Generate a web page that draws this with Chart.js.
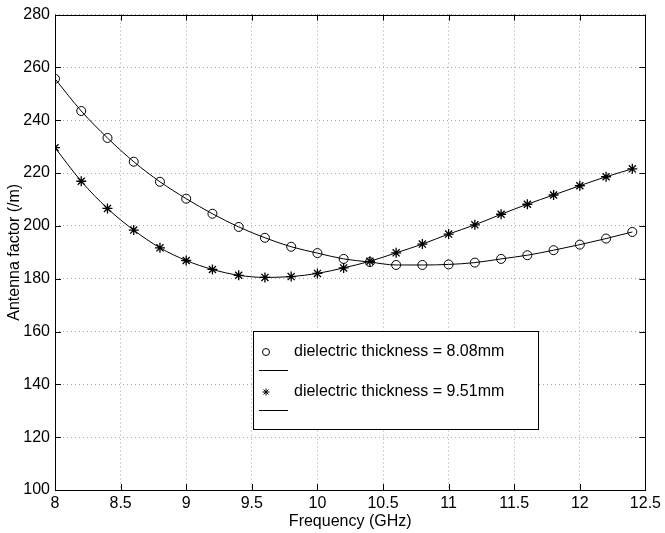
<!DOCTYPE html>
<html>
<head>
<meta charset="utf-8">
<script src="https://cdn.jsdelivr.net/npm/chart.js@4"></script>
<style>
  html, body { margin: 0; padding: 0; background: #fff; }
  #wrap { width: 665px; height: 533px; }
</style>
</head>
<body>
<div id="wrap"><canvas id="chart" width="665" height="533"></canvas></div>
<script>
/* ─── Data ───────────────────────────────────────── */
const FREQ = [8.0, 8.2, 8.4, 8.6, 8.8, 9.0, 9.2, 9.4, 9.6, 9.8, 10.0, 10.2,
              10.4, 10.6, 10.8, 11.0, 11.2, 11.4, 11.6, 11.8, 12.0, 12.2, 12.4];

const AF_808 = [255.7, 243.5, 233.3, 224.3, 216.7, 210.3, 204.6, 199.6, 195.5, 192.1, 189.7, 187.5,
                186.3, 185.2, 185.2, 185.4, 186.1, 187.5, 188.9, 190.8, 192.9, 195.2, 197.7];

const AF_951 = [229.6, 216.9, 206.6, 198.4, 191.7, 186.9, 183.5, 181.3, 180.5, 180.8, 182.0, 184.1,
                186.6, 189.8, 193.1, 196.9, 200.4, 204.4, 208.2, 211.7, 215.2, 218.6, 221.6];

const X_TICKS = [8, 8.5, 9, 9.5, 10, 10.5, 11, 11.5, 12, 12.5];
const Y_TICKS = [100, 120, 140, 160, 180, 200, 220, 240, 260, 280];

const LABELS = ['dielectric thickness = 8.08mm', 'dielectric thickness = 9.51mm'];
const MARKERS = ['circle', 'star'];

const FONT = "'Liberation Sans', Arial, Helvetica, sans-serif";

/* ─── Helpers ───────────────────────────────────── */
function pts(ys) {
  return FREQ.map((x, i) => ({ x, y: ys[i] }));
}

function series(label, ys, style) {
  return {
    label,
    data: pts(ys),
    borderColor: '#000',
    borderWidth: 1,
    tension: 0.4,
    cubicInterpolationMode: 'monotone',
    pointStyle: style,
    pointRadius: style === 'star' ? 5 : 4.5,
    pointBorderWidth: style === 'star' ? 1.3 : 1,
    pointBorderColor: '#000',
    pointBackgroundColor: 'rgba(0,0,0,0)',
  };
}

/* ─── Plugins ───────────────────────────────────── */
// frame + inward ticks on all four sides
const framePlugin = {
  id: 'frame',
  afterDatasetsDraw(chart) {
    const { ctx, chartArea: a, scales } = chart;
    const len = 6;
    ctx.save();
    ctx.strokeStyle = '#000';
    ctx.lineWidth = 1;
    ctx.beginPath();
    X_TICKS.forEach(v => {
      const px = Math.round(scales.x.getPixelForValue(v)) + 0.5;
      ctx.moveTo(px, a.bottom); ctx.lineTo(px, a.bottom - len);
      ctx.moveTo(px, a.top);    ctx.lineTo(px, a.top + len);
    });
    Y_TICKS.forEach(v => {
      const py = Math.round(scales.y.getPixelForValue(v)) + 0.5;
      ctx.moveTo(a.left, py);  ctx.lineTo(a.left + len, py);
      ctx.moveTo(a.right, py); ctx.lineTo(a.right - len, py);
    });
    ctx.stroke();
    ctx.strokeRect(Math.round(a.left) + 0.5, Math.round(a.top) + 0.5,
                   Math.round(a.right - a.left), Math.round(a.bottom - a.top));
    ctx.restore();
  },
};

// MATLAB-style legend: marker + text, short line underneath
const legendPlugin = {
  id: 'matLegend',
  afterDraw(chart) {
    const { ctx } = chart;
    const box = { x: 253, y: 331, w: 285, h: 98 };
    ctx.save();
    ctx.fillStyle = '#fff';
    ctx.fillRect(box.x, box.y, box.w, box.h);
    ctx.strokeStyle = '#000';
    ctx.lineWidth = 1;
    ctx.strokeRect(box.x + 0.5, box.y + 0.5, box.w, box.h);

    ctx.font = '16px ' + FONT;
    ctx.textBaseline = 'middle';
    LABELS.forEach((lab, i) => {
      const cy = box.y + 21 + i * 40;
      ctx.fillStyle = 'rgba(0,0,0,0)';
      Chart.helpers.drawPoint(ctx, { pointStyle: MARKERS[i], radius: 3.5, borderWidth: 1 }, 266, cy);
      ctx.fillStyle = '#000';
      ctx.fillText(lab, 294, cy);
      ctx.beginPath();
      ctx.moveTo(259, cy + 18.5);
      ctx.lineTo(288, cy + 18.5);
      ctx.stroke();
    });
    ctx.restore();
  },
};

/* ─── Chart ──────────────────────────────────────── */
const gridOpts = { color: '#a8a8a8', lineWidth: 1, drawTicks: false };
const tickFont = { family: FONT, size: 16 };

new Chart(document.getElementById('chart').getContext('2d'), {
  type: 'line',
  data: {
    datasets: [
      series(LABELS[0], AF_808, MARKERS[0]),
      series(LABELS[1], AF_951, MARKERS[1]),
    ],
  },
  options: {
    responsive: false,
    animation: false,
    layout: { padding: { top: 13, right: 13, left: 0, bottom: 0 } },
    plugins: {
      legend: { display: false },
      tooltip: { enabled: false },
    },
    scales: {
      x: {
        type: 'linear',
        min: 8,
        max: 12.5,
        afterBuildTicks: s => { s.ticks = X_TICKS.map(v => ({ value: v })); },
        afterFit: s => { s.height = 43; },
        grid: gridOpts,
        border: { display: false, dash: [1, 3] },
        ticks: { color: '#000', font: tickFont, padding: 4, maxRotation: 0, callback: v => String(v) },
        title: { display: true, text: 'Frequency (GHz)', color: '#000', font: tickFont, padding: { top: 0, bottom: 2 } },
      },
      y: {
        type: 'linear',
        min: 100,
        max: 280,
        afterBuildTicks: s => { s.ticks = Y_TICKS.map(v => ({ value: v })); },
        afterFit: s => { s.width = 55; },
        grid: gridOpts,
        border: { display: false, dash: [1, 3] },
        ticks: { color: '#000', font: tickFont, padding: 5, callback: v => String(v) },
        title: { display: true, text: 'Antenna factor (/m)', color: '#000', font: tickFont, padding: { top: 5, bottom: 0 } },
      },
    },
  },
  plugins: [framePlugin, legendPlugin],
});
</script>
</body>
</html>
